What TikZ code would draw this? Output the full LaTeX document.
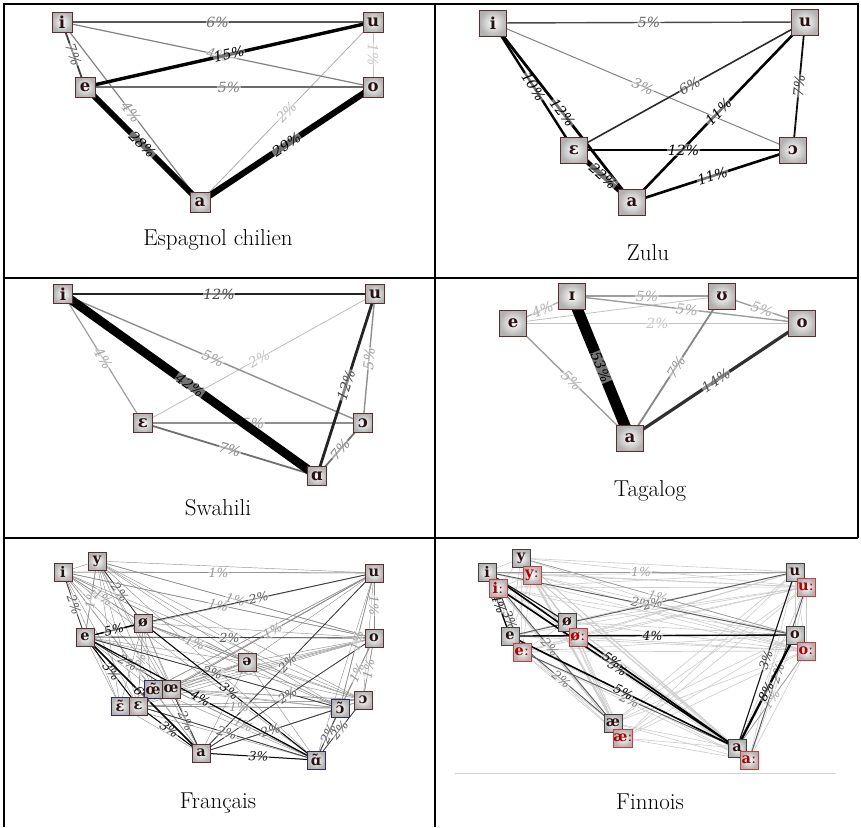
\documentclass[tikz,border=0pt]{standalone}
\usepackage{fontspec}
\newfontfamily\ipa{DejaVu Serif}
\newfontfamily\lblfont{DejaVu Serif}
\pgfdeclarelayer{paper}
\pgfdeclarelayer{edges}
\pgfsetlayers{paper,edges,main}
\definecolor{boxbrown}{HTML}{5A2E2E}
\definecolor{boxnavy}{HTML}{2E2E5E}
\definecolor{longred}{HTML}{D03A3A}
\definecolor{longtext}{HTML}{B00000}
\definecolor{vtext}{HTML}{2A1212}
\def\colsc{1}\def\lwsc{1}\def\lblsz{14}
\newcommand\vedge[3]{%
 \pgfmathtruncatemacro\lc{min(100,15+2.5*#3*\colsc)}%
 \pgfmathtruncatemacro\tc{min(100,15+2.0*#3*\colsc)}%
 \pgfmathsetmacro\lw{0.4+0.2*#3*\lwsc}%
 \draw[line width=\lw pt, draw=black!\lc] (#1.center) -- node[lbl, text=black!\tc] {#3\%} (#2.center);}
\newcommand\vedgen[3]{%
 \pgfmathtruncatemacro\lc{min(100,15+2.5*#3*\colsc)}%
 \pgfmathsetmacro\lw{0.4+0.2*#3*\lwsc}%
 \draw[line width=\lw pt, draw=black!\lc] (#1.center) -- (#2.center);}
\tikzset{
 vw/.style={draw=boxbrown, line width=0.8pt, inner sep=0pt, minimum width=20pt, minimum height=20pt,
   inner color=white, outer color=black!30, text=vtext, font=\ipa\bfseries\fontsize{16.5}{16.5}\selectfont},
 smallbox/.style={minimum width=18pt, minimum height=18pt, font=\ipa\bfseries\fontsize{14.5}{14.5}\selectfont},
 bigbox/.style={minimum width=27pt, minimum height=26pt},
 nasal/.style={draw=boxnavy},
 shortv/.style={draw=black!75},
 longv/.style={draw=longred, text=longtext, line width=1pt},
 lbl/.style={sloped, midway, inner sep=0.6pt, fill=white, fill opacity=0.45, text opacity=1,
   font=\lblfont\itshape\fontsize{\lblsz}{\lblsz}\selectfont},
 gridline/.style={line width=1.6pt, black},
 caption/.style={font=\fontsize{23}{26}\selectfont, inner sep=0pt},
 fweb/.style={draw=black!42, line width=0.45pt},
 nweb/.style={draw=black!20, line width=0.6pt},
}
\begin{document}
\begin{tikzpicture}[x=1pt,y=-1pt]
\useasboundingbox (0,0) rectangle (861,827);
\begin{pgfonlayer}{paper}
\fill[white] (0,0) rectangle (861,827);
\end{pgfonlayer}
% table grid
\coordinate (tl) at (4,4); \coordinate (tr) at (858,4);
\coordinate (ml) at (4,278); \coordinate (mr) at (858,278);
\coordinate (ll) at (4,538); \coordinate (lr) at (858,538);
\coordinate (bl) at (4,827); \coordinate (tm) at (435,4); \coordinate (bm) at (435,827);
\draw[gridline] (bl) -- (tl) -- (tr) -- (lr);
\draw[gridline] (ml) -- (mr);
\draw[gridline] (ll) -- (lr);
\draw[gridline] (tm) -- (bm);

% ---------- Espagnol chilien
\node[vw] (si) at (62,22) {i};
\node[vw] (su) at (373,22) {u};
\node[vw] (se) at (85,87) {e};
\node[vw] (so) at (373,87) {o};
\node[vw] (sa) at (200,202) {a};
\node[caption] (cap1) at (218,240) {Espagnol chilien};

% ---------- Zulu
\node[vw,bigbox] (zi) at (493,23) {i};
\node[vw,bigbox] (zu) at (805,22) {u};
\node[vw,bigbox] (zeps) at (574,150) {ɛ};
\node[vw,bigbox] (zopen) at (793,150) {ɔ};
\node[vw,bigbox] (za) at (632,202) {a};
\node[caption] (cap2) at (648,253) {Zulu};

% ---------- Swahili
\node[vw,minimum width=19pt,minimum height=19pt] (wi) at (63,294) {i};
\node[vw,minimum width=19pt,minimum height=19pt] (wu) at (375,294) {u};
\node[vw,minimum width=19pt,minimum height=19pt] (weps) at (143,423) {ɛ};
\node[vw,minimum width=19pt,minimum height=19pt] (wopen) at (363,423) {ɔ};
\node[vw,minimum width=19pt,minimum height=19pt] (walpha) at (317,476) {ɑ};
\node[caption] (cap3) at (218,508) {Swahili};

% ---------- Tagalog
\node[vw,bigbox] (ti) at (572,296) {ɪ};
\node[vw,bigbox] (tu) at (722,296) {ʊ};
\node[vw,bigbox] (te) at (513,323) {e};
\node[vw,bigbox] (to) at (802,323) {o};
\node[vw,bigbox] (ta) at (630,438) {a};
\node[caption] (cap4) at (650,491) {Tagalog};

% ---------- Français
\node[vw,smallbox] (fi) at (63,572) {i};
\node[vw,smallbox] (fy) at (97,561) {y};
\node[vw,smallbox] (fu) at (374,573) {u};
\node[vw,smallbox] (fe) at (85,637) {e};
\node[vw,smallbox] (fob) at (143,623) {ø};
\node[vw,smallbox] (fo) at (374,638) {o};
\node[vw,smallbox] (fschwa) at (247,662) {ə};
\node[vw,smallbox,nasal] (foen) at (153,689) {œ̃};
\node[vw,smallbox] (foe) at (171,689) {œ};
\node[vw,smallbox,nasal] (fepsn) at (120,706) {ɛ̃};
\node[vw,smallbox] (feps) at (138,706) {ɛ};
\node[vw,smallbox] (fopen) at (363,700) {ɔ};
\node[vw,smallbox,nasal] (fopenn) at (340,708) {ɔ̃};
\node[vw,smallbox] (fa) at (201,753) {a};
\node[vw,smallbox,nasal] (falpn) at (316,760) {ɑ̃};
\node[caption] (cap5) at (218,803) {Français};

% ---------- Finnois
\node[vw,smallbox,shortv] (Fi) at (487,572) {i};
\node[vw,smallbox,shortv] (Fy) at (521,558) {y};
\node[vw,smallbox,shortv] (Fe) at (510,636) {e};
\node[vw,smallbox,shortv] (Fob) at (567,622) {ø};
\node[vw,smallbox,shortv] (Fae) at (613,723) {æ};
\node[vw,smallbox,shortv] (Fu) at (795,572) {u};
\node[vw,smallbox,shortv] (Fo) at (795,635) {o};
\node[vw,smallbox,shortv] (Fa) at (737,748) {a};
\node[vw,smallbox,longv] (Fil) at (498,588) {iː};
\node[vw,smallbox,longv] (Fyl) at (532,575) {yː};
\node[vw,smallbox,longv] (Fel) at (522,652) {eː};
\node[vw,smallbox,longv] (Fobl) at (578,637) {øː};
\node[vw,smallbox,longv] (Fael) at (623,738) {æː};
\node[vw,smallbox,longv] (Ful) at (806,587) {uː};
\node[vw,smallbox,longv] (Fol) at (806,651) {oː};
\node[vw,smallbox,longv] (Fal) at (749,760) {aː};
\coordinate (rulea) at (455,773); \coordinate (ruleb) at (836,773);
\draw[black!18, line width=1pt] (rulea) -- (ruleb);
\node[caption] (cap6) at (650,802) {Finnois};

\begin{pgfonlayer}{edges}
% Espagnol (max 29)
\def\colsc{3.45}
\vedge{su}{so}{1}
\vedge{su}{sa}{2}
\vedge{si}{so}{4}
\vedge{si}{sa}{4}
\vedge{se}{so}{5}
\vedge{si}{su}{6}
\vedge{si}{se}{7}
\vedge{se}{su}{15}
\vedge{se}{sa}{28}
\vedge{so}{sa}{29}
% Zulu (max 22)
\def\colsc{4.55}
\vedge{zi}{zopen}{3}
\vedge{zi}{zu}{5}
\vedge{zu}{zeps}{6}
\vedge{zu}{zopen}{7}
\vedge{zi}{zeps}{10}
\vedge{zu}{za}{11}
\vedge{za}{zopen}{11}
\vedge{zi}{za}{12}
\vedge{zeps}{zopen}{12}
\vedge{zeps}{za}{22}
% Swahili (max 42)
\def\colsc{2.38}
\vedge{wu}{weps}{2}
\vedge{wi}{weps}{4}
\vedge{wi}{wopen}{5}
\vedge{wu}{wopen}{5}
\vedge{weps}{wopen}{5}
\vedge{weps}{walpha}{7}
\vedge{wopen}{walpha}{7}
\vedge{wi}{wu}{12}
\vedge{wu}{walpha}{12}
\vedge{wi}{walpha}{42}
% Tagalog (max 53)
\def\colsc{1.89}
\vedgen{te}{tu}{2}
\vedge{te}{to}{2}
\vedge{te}{ti}{4}
\vedge{ti}{tu}{5}
\vedge{ti}{to}{5}
\vedge{tu}{to}{5}
\vedge{te}{ta}{5}
\vedge{tu}{ta}{7}
\vedge{to}{ta}{14}
\vedge{ti}{ta}{53}
% Français web
\foreach \a [count=\ii] in {fi,fy,fu,fe,fob,fo,fschwa,foen,foe,fepsn,feps,fopen,fopenn,fa,falpn}{
  \foreach \b [count=\jj] in {fi,fy,fu,fe,fob,fo,fschwa,foen,foe,fepsn,feps,fopen,fopenn,fa,falpn}{
    \ifnum\jj>\ii \draw[fweb] (\a.center) -- (\b.center);\fi}}
\def\colsc{12.5}\def\lwsc{1}\def\lblsz{12.5}
\vedge{fi}{fu}{1}
\vedge{fi}{fe}{2}
\vedge{fy}{fe}{1}
\vedge{fi}{fob}{1}
\vedge{fy}{fob}{2}
\vedge{fi}{fo}{1}
\vedge{fy}{fo}{1}
\vedge{fob}{fu}{2}
\vedge{fe}{fo}{2}
\vedge{foe}{fu}{1}
\vedge{fob}{fschwa}{1}
\vedge{fe}{foe}{2}
\vedge{fe}{feps}{3}
\vedge{fob}{feps}{1}
\vedge{fe}{fopenn}{2}
\vedge{fob}{falpn}{3}
\vedge{foe}{fa}{2}
\vedge{feps}{fa}{3}
\vedge{fa}{fu}{2}
\vedge{fa}{fo}{2}
\vedge{feps}{fopenn}{1}
\vedge{foe}{falpn}{1}
\vedge{feps}{falpn}{2}
\vedge{fa}{fopenn}{2}
\vedge{fa}{falpn}{3}
\vedge{fu}{fo}{1}
\vedge{fu}{fopenn}{1}
\vedge{fo}{fopenn}{1}
\vedge{fo}{fopen}{1}
\vedge{fopenn}{falpn}{2}
\vedge{fopen}{falpn}{2}
\vedge{fe}{falpn}{4}
\vedge{fe}{fob}{5}
\vedge{fe}{fa}{6}
% Finnois web
\foreach \a [count=\ii] in {Fi,Fy,Fe,Fob,Fae,Fu,Fo,Fa,Fil,Fyl,Fel,Fobl,Fael,Ful,Fol,Fal}{
  \foreach \b [count=\jj] in {Fi,Fy,Fe,Fob,Fae,Fu,Fo,Fa,Fil,Fyl,Fel,Fobl,Fael,Ful,Fol,Fal}{
    \ifnum\jj>\ii \draw[nweb] (\a.center) -- (\b.center);\fi}}
\def\colsc{10}\def\lwsc{1.2}\def\lblsz{12.5}
\vedge{Fi}{Fu}{1}
\vedge{Fi}{Fo}{2}
\vedge{Fy}{Fo}{1}
\vedge{Fe}{Fu}{2}
\vedge{Fi}{Fae}{2}
\vedge{Fe}{Fae}{2}
\vedge{Fel}{Fa}{2}
\vedge{Fu}{Fa}{3}
\vedge{Fol}{Fa}{1}
\vedge{Ful}{Fal}{2}
\vedge{Fil}{Fel}{3}
\vedge{Fi}{Fe}{4}
\vedgen{Fi}{Fob}{3}
\vedge{Fe}{Fo}{4}
\vedge{Fil}{Fa}{5}
\vedge{Fi}{Fa}{5}
\vedge{Fe}{Fa}{5}
\vedge{Fo}{Fa}{8}
\end{pgfonlayer}
\end{tikzpicture}
\end{document}
